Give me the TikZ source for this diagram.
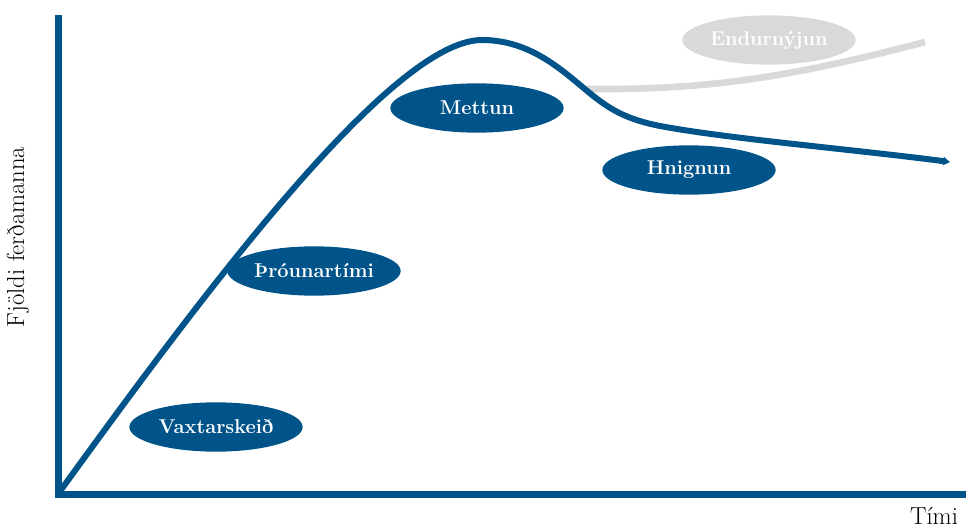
\documentclass[tikz,border=0pt]{standalone}
\usepackage{fontspec}
\usetikzlibrary{shapes.geometric,arrows.meta}
\definecolor{curveblue}{RGB}{0,84,138}
\definecolor{fadegrey}{RGB}{217,217,217}

\begin{document}
\begin{tikzpicture}[ x=0.75pt , y=-0.75pt ,
  phase/.style={ ellipse , fill=curveblue , text=white , inner sep=0pt ,
    minimum width=130pt , minimum height=37pt ,
    font=\bfseries\fontsize{15}{17}\selectfont },
  renewal/.style={ phase , fill=fadegrey },
  curve/.style={ curveblue , line width=4.5pt },
  axislabel/.style={ font=\fontsize{18.5}{20}\selectfont } ]
\useasboundingbox (0,0) rectangle (966,528);
\coordinate (y_top) at (58,15);
\coordinate (o) at (58,494);
\coordinate (x_end) at (966,494);
\coordinate (r_start) at (585,89);
\coordinate (r_end) at (925,42);
\draw [ curveblue , line width=5.25pt , line join=miter ] (y_top) -- (o) -- (x_end);
\draw [ fadegrey , line width=5pt ] (r_start) .. controls (700,90) and (780,80) .. (r_end);
\draw [ curve , -{Triangle[length=5pt,width=6pt]} ] (o)
  .. controls (195,305) and (390,40) .. (482,40)
  .. controls (525,40) and (555,64) .. (580,85)
  .. controls (605,106) and (620,118) .. (660,126)
  .. controls (730,139) and (850,149) .. (950,162);
\node [ phase ] (p_1) at (216,427) {Vaxtarskeið};
\node [ phase ] (p_2) at (314,271) {Þróunartími};
\node [ phase ] (p_3) at (477,108) {Mettun};
\node [ phase ] (p_4) at (689,170) {Hnignun};
\node [ renewal ] (p_5) at (769,40) {Endurnýjun};
\node [ axislabel , rotate=90 ] (y_label) at (18,237) {Fjöldi ferðamanna};
\node [ axislabel ] (x_label) at (934,516) {Tími};
\end{tikzpicture}
\end{document}
